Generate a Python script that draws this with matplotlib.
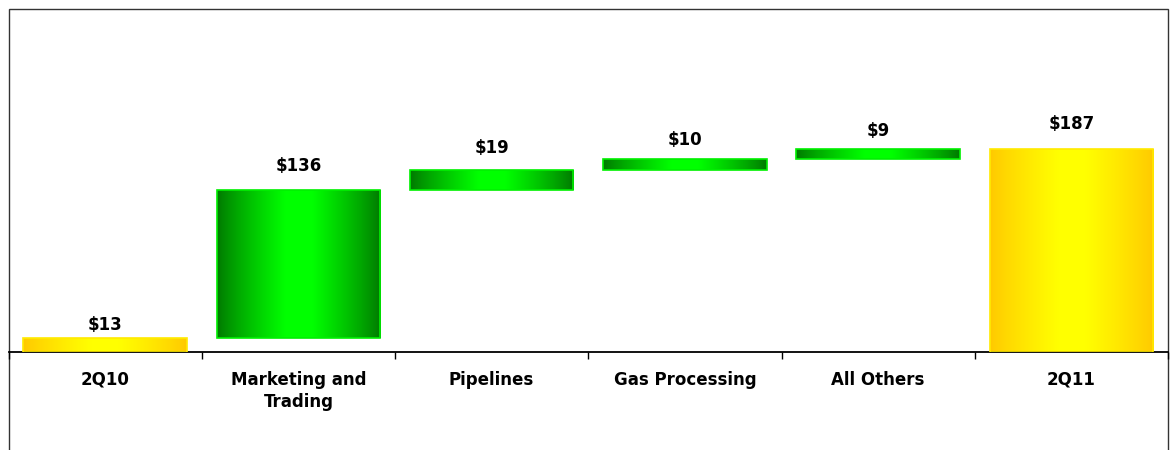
import numpy as np
import matplotlib
matplotlib.use("Agg")
import matplotlib.pyplot as plt
from matplotlib.patches import Rectangle
from matplotlib.colors import to_rgb

categories = ["2Q10", "Marketing and\nTrading", "Pipelines", "Gas Processing", "All Others", "2Q11"]
values = [13, 136, 19, 10, 9, 187]
kinds = ["total", "delta", "delta", "delta", "delta", "total"]
labels = ["$13", "$136", "$19", "$10", "$9", "$187"]

# style
label_pad_px = [8, 19, 17, 14, 13, 20]
W, H = 1176, 450
plt.rcParams['font.family'] = ['DejaVu Sans']

fig = plt.figure(figsize=(W / 100, H / 100), dpi=100)
L, R, B, T = 8.5, 1168, 352, 9.5
ax = fig.add_axes([L / W, (H - B) / H, (R - L) / W, (B - T) / H])

frame = Rectangle((L / W, -0.05), (R - L) / W, (H - T) / H + 0.05, transform=fig.transFigure,
                  fill=False, edgecolor="#333333", linewidth=1.0, zorder=0)
fig.add_artist(frame)

xs = np.arange(len(categories))
bottoms = []
running = 0
for v, k in zip(values, kinds):
    if k == "total":
        bottoms.append(0)
        running = v
    else:
        bottoms.append(running)
        running += v

bar_w = 0.845
bars = ax.bar(xs, values, bottom=bottoms, width=bar_w, facecolor="none", zorder=3)

schemes = {
    "total": (to_rgb("#ffc800"), to_rgb("#ffff00"), "#ffea00"),
    "delta": (to_rgb("#007800"), to_rgb("#00ff00"), "#00f000"),
}
u = np.linspace(0, 1, 256)
t = 1 - np.abs(2 * u - 1)
t = np.clip(t * 1.2, 0, 1) ** 0.85

for patch, k, lab, pad in zip(bars, kinds, labels, label_pad_px):
    dark, bright, edge = schemes[k]
    grad = np.array(dark)[None, :] + (np.array(bright) - np.array(dark))[None, :] * t[:, None]
    img = grad[None, :, :]
    x0, y0 = patch.get_x(), patch.get_y()
    w, h = patch.get_width(), patch.get_height()
    im = ax.imshow(img, extent=[x0, x0 + w, y0, y0 + h], aspect="auto", zorder=2, interpolation="bilinear")
    im.set_clip_path(patch)
    patch.set_edgecolor(edge)
    patch.set_linewidth(1.2)
    ax.annotate(lab, (x0 + w / 2, y0 + h), xytext=(0, pad * 0.72), textcoords="offset points",
                ha="center", va="baseline", fontsize=12, fontweight="bold", color="black", zorder=5)

ax.set_xlim(-0.5, len(categories) - 0.5)
ax.set_ylim(0, (B - T) / 1.086)

for s in ["left", "right", "top"]:
    ax.spines[s].set_visible(False)
ax.spines["bottom"].set_linewidth(1.3)
ax.spines["bottom"].set_color("black")
ax.set_yticks([])
ax.set_xticks(xs)
ax.set_xticklabels(categories, fontsize=12, fontweight="bold", linespacing=1.3)
ax.tick_params(axis="x", which="major", length=0, pad=13.5)
ax.set_xticks(np.arange(-0.5, len(categories)), minor=True)
ax.tick_params(axis="x", which="minor", length=5, width=1.0, color="black", direction="out")
ax.patch.set_alpha(0)

fig.savefig("out.png", dpi=100, facecolor="white")
